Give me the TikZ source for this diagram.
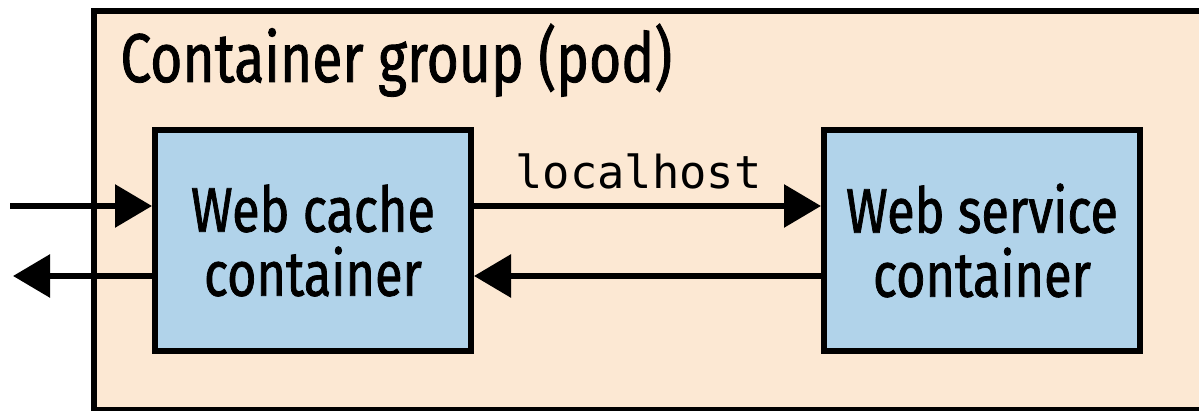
\documentclass[tikz,border=0pt]{standalone}
\usepackage{fontspec}
\setmainfont[FakeStretch=0.8, FakeBold=1.2]{Fira Sans}
\setmonofont{DejaVu Sans Mono}
\usetikzlibrary{arrows.meta,positioning}

\definecolor{podfill}{RGB}{252,232,211}
\definecolor{boxfill}{RGB}{177,211,234}

\begin{document}
\begin{tikzpicture}[
  x=0.5pt, y=0.5pt, % one pixel
  line join=miter,
  box/.style={draw, line width=3pt, fill=boxfill, minimum width=158pt,
    minimum height=110.5pt, align=center, font=\fontsize{31.5}{32}\selectfont},
  flow/.style={line width=3pt, -{Triangle[length=18.5pt,width=21pt]}}
]
  % ---- canvas ----
  \useasboundingbox (0,0) rectangle (1199,411);

  % ---- pod (runs off the right edge) ----
  \node[draw, line width=3pt, fill=podfill, anchor=north west,
    minimum width=557pt, minimum height=199.25pt, inner sep=0pt] (pod) at (91,402.5) {};
  \node[anchor=base west, inner sep=0pt, font=\fontsize{34.5}{40}\selectfont] (title) at (120,329) {Container group (pod)};

  % ---- containers ----
  \node[box] (cache) at (313,170.5) {Web cache\\container};
  \node[box, right=173.5pt of cache] (service) {Web service\\container};

  % ---- traffic ----
  \coordinate (in) at (10,205);
  \coordinate (out) at (13,135);
  \draw[flow] (in) -- (in -| cache.west);
  \draw[flow] (out -| cache.west) -- (out);
  \draw[flow] (in -| cache.east) -- (in -| service.west)
    node[midway, above, inner sep=0pt, yshift=7pt, xshift=-4.5pt, font=\fontsize{22.7}{26}\selectfont\ttfamily] (lh) {localhost};
  \draw[flow] (out -| service.west) -- (out -| cache.east);
\end{tikzpicture}
\end{document}
